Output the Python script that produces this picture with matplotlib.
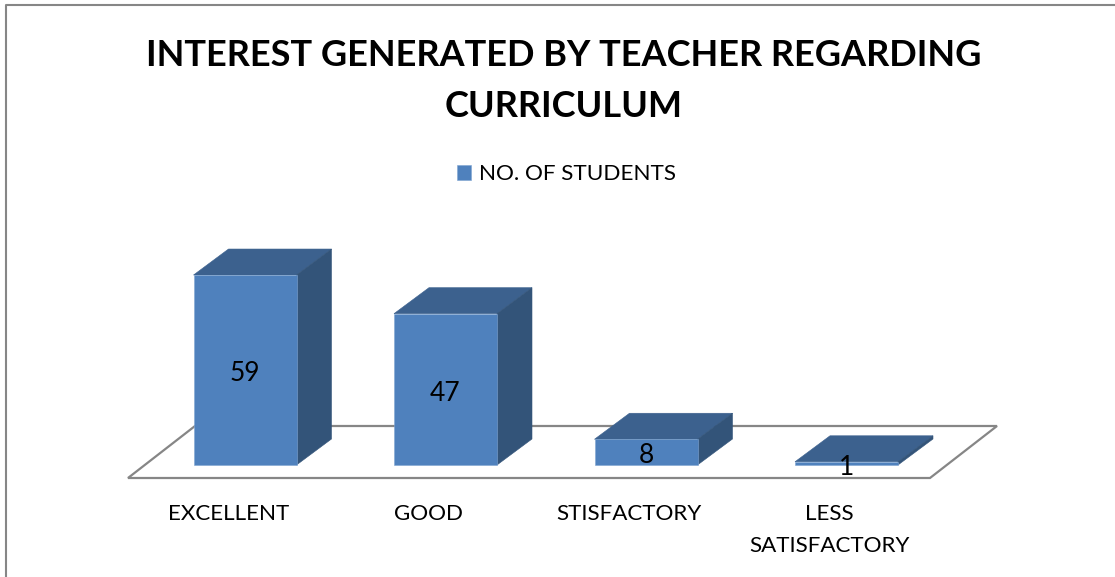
import matplotlib
matplotlib.use("Agg")
import matplotlib.pyplot as plt
from matplotlib.lines import Line2D
from matplotlib.patches import Polygon

categories = ["EXCELLENT", "GOOD", "STISFACTORY", "LESS\nSATISFACTORY"]
students = [59, 47, 8, 1]
series_name = "NO. OF STUDENTS"
title = "INTEREST GENERATED BY TEACHER REGARDING\nCURRICULUM"

W, H = 1115, 577
FRONT = "#4F81BD"
TOP = "#3C618E"
SIDE = "#335479"
GREY = "#868686"
px_per_cat = 200.5
px_per_val = 3.22

plt.rcParams["font.family"] = ["Lato", "DejaVu Sans"]

fig = plt.figure(figsize=(W / 100, H / 100), dpi=100, facecolor="white")
ax = fig.add_axes([128 / W, (H - 478) / H, 802 / W, 478 / H])
ax.set_xlim(-0.5, 3.5)
ax.set_ylim(0, 478 / px_per_val)

# fake 3d offsets, in data units
floor_dx = 67 / px_per_cat
floor_dy = 52 / px_per_val
bar_x0 = floor_dx / 4
bar_y0 = floor_dy / 4
depth_x = 35 / px_per_cat
depth_y = floor_dy / 2
bar_w = 103 / px_per_cat

# floor
ax.add_patch(Polygon([(-0.5, 0), (3.5, 0), (3.5 + floor_dx, floor_dy), (-0.5 + floor_dx, floor_dy)],
                     closed=True, facecolor="white", edgecolor=GREY, lw=1.6,
                     clip_on=False, zorder=1))

xs = [i + bar_x0 for i in range(len(students))]
bars = ax.bar(xs, students, width=bar_w, bottom=bar_y0, color=FRONT, edgecolor="#7FA5D2",
              linewidth=0.4, label=series_name, zorder=4)

for x, v in zip(xs, students):
    left = x - bar_w / 2
    right = x + bar_w / 2
    y1 = bar_y0 + v
    ax.add_patch(Polygon([(left, y1), (right, y1), (right + depth_x, y1 + depth_y), (left + depth_x, y1 + depth_y)],
                         closed=True, facecolor=TOP, edgecolor=TOP, lw=0.4, zorder=3, clip_on=False))
    ax.add_patch(Polygon([(right, bar_y0), (right + depth_x, bar_y0 + depth_y), (right + depth_x, y1 + depth_y), (right, y1)],
                         closed=True, facecolor=SIDE, edgecolor=SIDE, lw=0.4, zorder=3, clip_on=False))
    # labels sit a little under the face centre in the original
    ax.annotate(str(v), (x, bar_y0 + v / 2), xytext=(0, -2.7), textcoords="offset points",
                ha="center", va="center", fontsize=19, color="black", zorder=5)

ax.set_xticks(range(len(categories)))
ax.set_xticklabels(categories, fontsize=16.1, color="black", linespacing=1.78)
ax.tick_params(axis="x", length=0, pad=18.5)
ax.set_yticks([])
for side in ax.spines:
    ax.spines[side].set_visible(False)
ax.patch.set_alpha(0)

fig.text(564 / W, 1 - 81 / H, title, ha="center", va="center", fontsize=26, fontweight="bold",
         color="black", linespacing=1.7)

leg = ax.legend(loc="center", bbox_to_anchor=(566.5 / W, 1 - 174.5 / H), bbox_transform=fig.transFigure,
                frameon=False, fontsize=16.2, handlelength=0.62, handleheight=0.62, handletextpad=0.35,
                borderpad=0)
for t in leg.get_texts():
    t.set_color("black")

# outer chart border, only top and left are in the crop
fig.add_artist(Line2D([5.5 / W, 5.5 / W, 1115 / W], [0, 1 - 4.5 / H, 1 - 4.5 / H], color=GREY, lw=1.5))

fig.savefig("out.png", dpi=100)
